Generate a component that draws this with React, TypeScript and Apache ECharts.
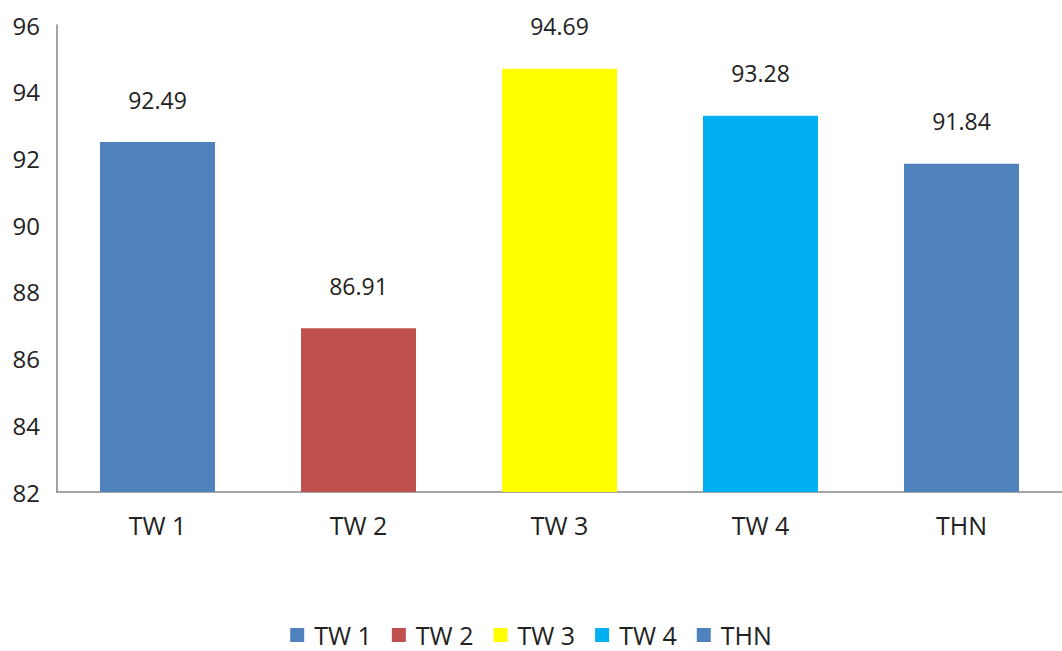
import React, { useEffect, useRef } from "react";
import * as echarts from "echarts";

const categories = ["TW 1", "TW 2", "TW 3", "TW 4", "THN"];
const values = [92.49, 86.91, 94.69, 93.28, 91.84];
const colors = ["#4F81BD", "#C0504D", "#FFFF00", "#00B0F0", "#4F81BD"];
const yTicks = { min: 82, max: 96, interval: 2 };

export default function App() {
  const ref = useRef<HTMLDivElement>(null);
  useEffect(() => {
    document.body.style.margin = "0";
    const chart = echarts.init(ref.current!, null, { renderer: "svg" });
    const font = "'Open Sans', 'Noto Sans', sans-serif";
    const series = categories.map((name, i) => ({
      name,
      type: "bar",
      stack: "all",
      barWidth: 115,
      itemStyle: { color: colors[i] },
      label: {
        show: true,
        position: "top",
        distance: 31,
        color: "#222",
        fontSize: 23,
        fontFamily: font,
        formatter: (p: any) => p.value.toFixed(2),
      },
      data: categories.map((_, j) => (j === i ? values[i] : null)),
    }));
    chart.setOption({
      animation: false,
      backgroundColor: "#fff",
      grid: { left: 57, right: 0, top: 25, bottom: 159 },
      legend: {
        top: 620,
        left: "center",
        padding: 0,
        itemWidth: 14,
        itemHeight: 14,
        itemGap: 20,
        icon: "rect",
        textStyle: { fontSize: 25, lineHeight: 30, fontFamily: font, color: "#222", padding: [0, 0, 0, 5] },
        data: categories,
      },
      xAxis: {
        type: "category",
        data: categories,
        axisLine: { lineStyle: { color: "#868686", width: 1.5 } },
        axisTick: { show: false },
        axisLabel: { fontSize: 25, fontFamily: font, color: "#222", margin: 20 },
      },
      yAxis: {
        type: "value",
        min: yTicks.min,
        max: yTicks.max,
        interval: yTicks.interval,
        axisLine: { show: true, lineStyle: { color: "#868686", width: 1.5 } },
        axisTick: { show: false },
        splitLine: { show: false },
        axisLabel: { fontSize: 24, fontFamily: font, color: "#222", margin: 17 },
      },
      series,
    });
    return () => chart.dispose();
  }, []);
  return <div ref={ref} style={{ position: "absolute", left: 0, top: 0, width: 1062, height: 651 }} />;
}
